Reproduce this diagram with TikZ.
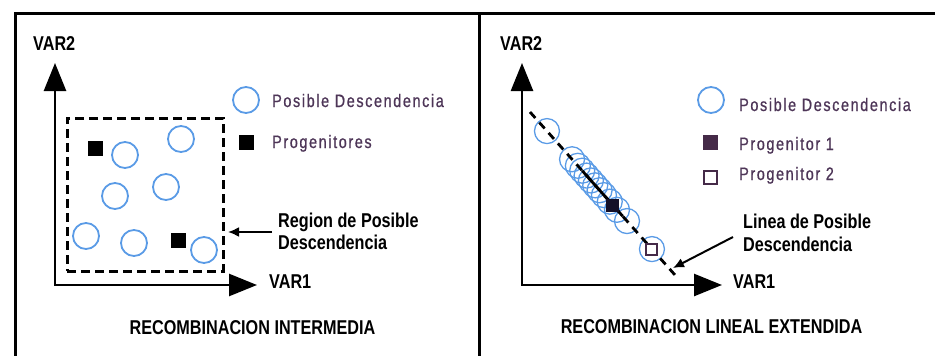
\documentclass[tikz,border=0pt]{standalone}
\usepackage{fontspec}
\setmainfont{Liberation Sans}
\newfontfamily\boldc{Liberation Sans}[FakeStretch=0.81]
\newfontfamily\legf{Liberation Sans}[FakeStretch=0.8,LetterSpace=9,FakeBold=0.8]
\usetikzlibrary{arrows.meta,calc}
\definecolor{cblue}{HTML}{5A9BE6}
\definecolor{lpurple}{HTML}{4D3557}
\definecolor{pdark}{HTML}{452A48}
\definecolor{pnavy}{HTML}{141028}
\tikzset{
  frame/.style={line width=3pt, black},
  axes/.style={line width=2.6pt, {Triangle[length=28pt,width=22pt]}-{Triangle[length=28pt,width=22pt]}},
  lbl/.style={font=\boldc\bfseries\fontsize{20}{22}\selectfont, inner sep=0pt, anchor=base west},
  ttl/.style={font=\boldc\bfseries\fontsize{20}{22}\selectfont, inner sep=0pt, anchor=base},
  legtxt/.style={font=\legf\fontsize{18}{20}\selectfont, text=lpurple, inner sep=0pt, anchor=base west},
  offs/.style={circle, draw=cblue, line width=1.8pt, minimum size=26pt, inner sep=0pt},
  offsm/.style={circle, draw=cblue, line width=1.3pt, minimum size=25pt, inner sep=0pt},
  par/.style={rectangle, fill=black, minimum size=15pt, inner sep=0pt},
  regionbox/.style={draw, line width=3pt, dash pattern=on 9pt off 5pt},
  annot/.style={line width=2pt, -{Latex[length=11pt,width=10pt]}},
  dline/.style={line width=2.8pt, dash pattern=on 8pt off 6pt},
}
\begin{document}
\begin{tikzpicture}[x=1pt,y=-1pt]
\useasboundingbox (0,0) rectangle (935,356);
% frame
\draw[frame] (15,356) -- (15,13) -- (935,13);
\draw[frame] (479,13) -- (479,356);

% ===== left panel =====
\coordinate (Lo) at (55,285);
\coordinate (Ly) at (55,63);
\coordinate (Lx) at (257,285);
\draw[axes] (Ly) -- (Lo) -- (Lx);
\node[lbl] (Lvar2) at (33,50) {VAR2};
\node[lbl] (Lvar1) at (269,288) {VAR1};

\node[regionbox, minimum width=156pt, minimum height=153pt, inner sep=0pt] (region) at (145,194.5) {};
\node[par] (lp1) at (95,148) {};
\node[par] (lp2) at (178,240) {};
\foreach \p [count=\i] in {(125,155),(181,139),(115,196),(166,187),(86,236),(134,243),(204,250)}
  \node[offs] (lo\i) at \p {};

\node[offs] (Llegc) at (246,100) {};
\node[legtxt] (Llegt1) at (272,107) {Posible Descendencia};
\node[par] (Llegs) at (246,142) {};
\node[legtxt] (Llegt2) at (272,148) {Progenitores};

\node[lbl] (regA) at (278,227) {Region de Posible};
\node[lbl] (regB) at (278,249) {Descendencia};
\coordinate (a1s) at (272,232);
\coordinate (a1e) at (228,232);
\draw[annot] (a1s) -- (a1e);

\node[ttl] (Lttl) at (252.5,334) {RECOMBINACION INTERMEDIA};

% ===== right panel =====
\coordinate (Ro) at (522,285);
\coordinate (Ry) at (522,63);
\coordinate (Rx) at (722,285);
\draw[axes] (Ry) -- (Ro) -- (Rx);
\node[lbl] (Rvar2) at (500,50) {VAR2};
\node[lbl] (Rvar1) at (733,288) {VAR1};

\coordinate (ls) at (530,112);
\coordinate (le) at (675,275);
\foreach \t [count=\i] in {0.117,0.29,0.33,0.36,0.39,0.42,0.45,0.48,0.51,0.55,0.60,0.669,0.841}
  \node[offsm] (ro\i) at ($(ls)!\t!(le)$) {};
\draw[dline] (ls) -- (le);
\coordinate (ss) at ($(ls)!0.36!(le)$);
\coordinate (se) at ($(ls)!0.64!(le)$);
\draw[line width=2.8pt] (ss) -- (se);
\node[par, fill=pnavy, minimum size=13pt] (p1) at ($(ls)!0.572!(le)$) {};
\node[rectangle, draw=pdark, fill=white, line width=2pt, minimum size=11pt, inner sep=0pt] (p2) at ($(ls)!0.841!(le)$) {};

\node[offs] (Rlegc) at (711,100) {};
\node[legtxt] (Rlegt1) at (739,111) {Posible Descendencia};
\node[par, fill=pdark] (Rlegs1) at (710,142) {};
\node[legtxt] (Rlegt2) at (739,150) {Progenitor 1};
\node[rectangle, draw=pdark, line width=2pt, minimum size=13pt, inner sep=0pt] (Rlegs2) at (710,177) {};
\node[legtxt] (Rlegt3) at (739,180) {Progenitor 2};

\node[lbl] (linA) at (743,228) {Linea de Posible};
\node[lbl] (linB) at (743,251) {Descendencia};
\coordinate (a2s) at (733,237);
\coordinate (a2e) at (673,268);
\draw[annot] (a2s) -- (a2e);

\node[ttl] (Rttl) at (711.5,333) {RECOMBINACION LINEAL EXTENDIDA};
\end{tikzpicture}
\end{document}
